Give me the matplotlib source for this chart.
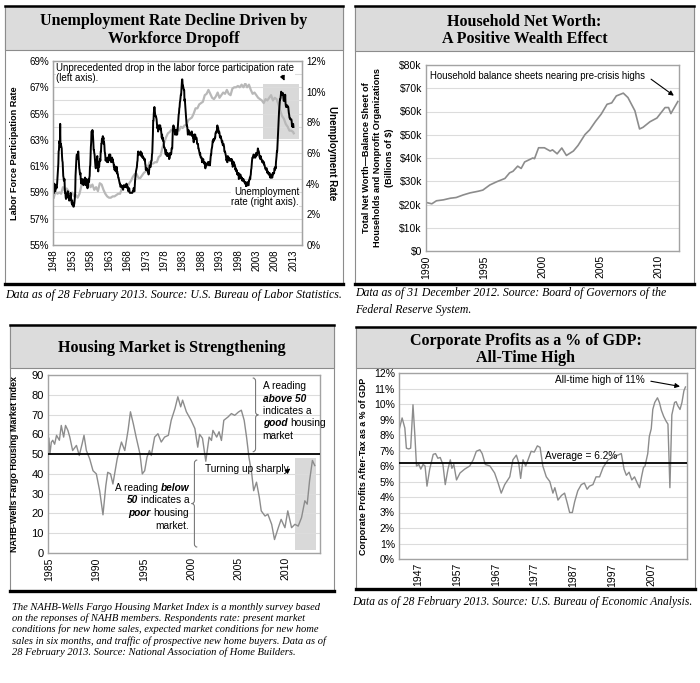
import matplotlib
matplotlib.use('Agg')
import matplotlib.pyplot as plt
import numpy as np
from matplotlib.patches import Rectangle, PathPatch
from matplotlib.lines import Line2D
from matplotlib.path import Path

plt.rcParams['font.family'] = 'Liberation Sans'
plt.rcParams['font.size'] = 7

SERIF = 'Liberation Serif'
GRID = '#dcdcdc'
FRAME = '#a3a3a3'
LINE_GRAY = '#8c8c8c'

# --- Panel 1: unemployment rate, monthly from Jan 1948 (right axis, %)
unemp_rate = [
    3.4, 3.8, 4.0, 3.9, 3.5, 3.6, 3.6, 3.9, 3.8, 3.7, 3.8, 4.0,
    4.3, 4.7, 5.0, 5.3, 6.1, 6.2, 6.7, 6.8, 6.6, 7.9, 6.4, 6.6,
    6.5, 6.4, 6.3, 5.8, 5.5, 5.4, 5.0, 4.5, 4.4, 4.2, 4.2, 4.3,
    3.7, 3.4, 3.4, 3.1, 3.0, 3.2, 3.1, 3.1, 3.3, 3.5, 3.5, 3.1,
    3.2, 3.1, 2.9, 2.9, 3.0, 3.0, 3.2, 3.4, 3.1, 3.0, 2.8, 2.7,
    2.9, 2.6, 2.6, 2.7, 2.5, 2.5, 2.6, 2.7, 2.9, 3.1, 3.5, 4.5,
    4.9, 5.2, 5.7, 5.9, 5.9, 5.6, 5.8, 6.0, 6.1, 5.7, 5.3, 5.0,
    4.9, 4.7, 4.6, 4.7, 4.3, 4.2, 4.0, 4.2, 4.1, 4.3, 4.2, 4.2,
    4.0, 3.9, 4.2, 4.0, 4.3, 4.3, 4.4, 4.1, 3.9, 3.9, 4.3, 4.2,
    4.2, 3.9, 3.7, 3.9, 4.1, 4.3, 4.2, 4.1, 4.4, 4.5, 5.1, 5.2,
    5.8, 6.4, 6.7, 7.4, 7.4, 7.3, 7.5, 7.4, 7.1, 6.7, 6.2, 6.2,
    6.0, 5.9, 5.6, 5.2, 5.1, 5.0, 5.1, 5.2, 5.5, 5.7, 5.8, 5.3,
    5.2, 4.8, 5.4, 5.2, 5.1, 5.4, 5.5, 5.6, 5.5, 6.1, 6.1, 6.6,
    6.6, 6.9, 6.9, 7.0, 7.1, 6.9, 7.0, 6.6, 6.7, 6.5, 6.1, 6.0,
    5.8, 5.5, 5.6, 5.6, 5.5, 5.5, 5.4, 5.7, 5.6, 5.4, 5.7, 5.5,
    5.7, 5.9, 5.7, 5.7, 5.9, 5.6, 5.6, 5.4, 5.5, 5.5, 5.7, 5.5,
    5.6, 5.4, 5.4, 5.3, 5.1, 5.2, 4.9, 5.0, 5.1, 5.1, 4.8, 5.0,
    4.9, 5.1, 4.7, 4.8, 4.6, 4.6, 4.4, 4.4, 4.3, 4.2, 4.1, 4.0,
    4.0, 3.8, 3.8, 3.8, 3.9, 3.8, 3.8, 3.8, 3.7, 3.7, 3.6, 3.8,
    3.9, 3.8, 3.8, 3.8, 3.8, 3.9, 3.8, 3.8, 3.8, 4.0, 3.9, 3.8,
    3.7, 3.8, 3.7, 3.5, 3.5, 3.7, 3.7, 3.5, 3.4, 3.4, 3.4, 3.4,
    3.4, 3.4, 3.4, 3.4, 3.4, 3.5, 3.5, 3.5, 3.7, 3.7, 3.5, 3.5,
    3.9, 4.2, 4.4, 4.6, 4.8, 4.9, 5.0, 5.1, 5.4, 5.5, 5.9, 6.1,
    5.9, 5.9, 6.0, 5.9, 5.9, 5.9, 6.0, 6.1, 6.0, 5.8, 6.0, 6.0,
    5.8, 5.7, 5.8, 5.7, 5.7, 5.7, 5.6, 5.6, 5.5, 5.6, 5.3, 5.2,
    4.9, 5.0, 4.9, 5.0, 4.9, 4.9, 4.8, 4.8, 4.8, 4.6, 4.8, 4.9,
    5.1, 5.2, 5.1, 5.1, 5.1, 5.4, 5.5, 5.5, 5.9, 6.0, 6.6, 7.2,
    8.1, 8.1, 8.6, 8.8, 9.0, 8.8, 8.6, 8.4, 8.4, 8.4, 8.3, 8.2,
    7.9, 7.7, 7.6, 7.7, 7.4, 7.6, 7.8, 7.8, 7.6, 7.7, 7.8, 7.8,
    7.5, 7.6, 7.4, 7.2, 7.0, 7.2, 6.9, 7.0, 6.8, 6.8, 6.8, 6.4,
    6.4, 6.3, 6.3, 6.1, 6.0, 5.9, 6.2, 5.9, 6.0, 5.8, 5.9, 6.0,
    5.9, 5.9, 5.8, 5.8, 5.6, 5.7, 5.7, 6.0, 5.9, 6.0, 5.9, 6.0,
    6.3, 6.3, 6.3, 6.9, 7.5, 7.6, 7.8, 7.7, 7.5, 7.5, 7.5, 7.2,
    7.5, 7.4, 7.4, 7.2, 7.5, 7.5, 7.2, 7.4, 7.6, 7.9, 8.3, 8.5,
    8.6, 8.9, 9.0, 9.3, 9.4, 9.6, 9.8, 9.8, 10.1, 10.4, 10.8, 10.8,
    10.4, 10.4, 10.3, 10.2, 10.1, 10.1, 9.4, 9.5, 9.2, 8.8, 8.5, 8.3,
    8.0, 7.8, 7.8, 7.7, 7.4, 7.2, 7.5, 7.5, 7.3, 7.4, 7.2, 7.3,
    7.3, 7.2, 7.2, 7.3, 7.2, 7.4, 7.4, 7.1, 7.1, 7.1, 7.0, 7.0,
    6.7, 7.2, 7.2, 7.1, 7.2, 7.2, 7.0, 6.9, 7.0, 7.0, 6.9, 6.6,
    6.6, 6.6, 6.6, 6.3, 6.3, 6.2, 6.1, 6.0, 5.9, 6.0, 5.8, 5.7,
    5.7, 5.7, 5.7, 5.4, 5.6, 5.4, 5.4, 5.6, 5.4, 5.4, 5.3, 5.3,
    5.4, 5.2, 5.0, 5.2, 5.2, 5.3, 5.2, 5.2, 5.3, 5.3, 5.4, 5.4,
    5.4, 5.3, 5.2, 5.4, 5.4, 5.2, 5.5, 5.7, 5.9, 5.9, 6.2, 6.3,
    6.4, 6.6, 6.8, 6.7, 6.9, 6.9, 6.8, 6.9, 6.9, 7.0, 7.0, 7.3,
    7.3, 7.4, 7.4, 7.4, 7.6, 7.8, 7.7, 7.6, 7.6, 7.3, 7.4, 7.4,
    7.3, 7.1, 7.0, 7.1, 7.1, 7.0, 6.9, 6.8, 6.7, 6.8, 6.6, 6.5,
    6.6, 6.6, 6.5, 6.4, 6.1, 6.1, 6.1, 6.0, 5.9, 5.8, 5.6, 5.5,
    5.6, 5.4, 5.4, 5.8, 5.6, 5.6, 5.7, 5.7, 5.6, 5.5, 5.6, 5.6,
    5.6, 5.5, 5.5, 5.6, 5.6, 5.3, 5.5, 5.1, 5.2, 5.2, 5.4, 5.4,
    5.3, 5.2, 5.2, 5.1, 4.9, 5.0, 4.9, 4.8, 4.9, 4.7, 4.6, 4.7,
    4.6, 4.6, 4.7, 4.3, 4.4, 4.5, 4.5, 4.5, 4.6, 4.5, 4.4, 4.4,
    4.3, 4.4, 4.2, 4.3, 4.2, 4.3, 4.3, 4.2, 4.2, 4.1, 4.1, 4.0,
    4.0, 4.1, 4.0, 3.8, 4.0, 4.0, 4.0, 4.1, 3.9, 3.9, 3.9, 3.9,
    4.2, 4.2, 4.3, 4.4, 4.3, 4.5, 4.6, 4.9, 5.0, 5.3, 5.5, 5.7,
    5.7, 5.7, 5.7, 5.9, 5.8, 5.8, 5.8, 5.7, 5.7, 5.7, 5.9, 6.0,
    5.8, 5.9, 5.9, 6.0, 6.1, 6.3, 6.2, 6.1, 6.1, 6.0, 5.8, 5.7,
    5.7, 5.6, 5.8, 5.6, 5.6, 5.6, 5.5, 5.4, 5.4, 5.5, 5.4, 5.4,
    5.3, 5.4, 5.2, 5.2, 5.1, 5.0, 5.0, 4.9, 5.0, 5.0, 5.0, 4.9,
    4.7, 4.8, 4.7, 4.7, 4.6, 4.6, 4.7, 4.7, 4.5, 4.4, 4.5, 4.4,
    4.6, 4.5, 4.4, 4.5, 4.4, 4.6, 4.7, 4.6, 4.7, 4.7, 4.7, 5.0,
    5.0, 4.9, 5.1, 5.0, 5.4, 5.6, 5.8, 6.1, 6.1, 6.5, 6.8, 7.3,
    7.8, 8.3, 8.7, 9.0, 9.4, 9.5, 9.5, 9.6, 9.8, 10.0, 9.9, 9.9,
    9.8, 9.8, 9.9, 9.9, 9.6, 9.4, 9.4, 9.5, 9.5, 9.4, 9.8, 9.3,
    9.1, 9.0, 9.0, 9.1, 9.0, 9.1, 9.0, 9.0, 9.0, 8.8, 8.6, 8.5,
    8.3, 8.3, 8.2, 8.2, 8.2, 8.2, 8.2, 8.1, 7.8, 7.8, 7.7, 7.9,
    7.9, 7.7,
]

# labor force participation rate (left axis, %), half-yearly readings
part_years = list(np.arange(1948.0, 2013.01, 0.5)) + [2013.15]
part_rate = [
    58.6, 59.1, 58.9, 59.0, 58.9, 59.4, 59.1, 59.3, 59.1, 58.9,
    59.0, 58.7, 58.8, 58.6, 58.9, 59.5, 59.8, 60.1, 59.7, 59.7,
    59.4, 59.6, 59.2, 59.4, 59.1, 59.7, 59.6, 59.2, 58.9, 58.7,
    58.6, 58.6, 58.7, 58.7, 58.8, 58.9, 58.9, 59.3, 59.5, 59.6,
    59.4, 59.7, 59.9, 60.2, 60.4, 60.4, 60.1, 60.1, 60.3, 60.5,
    60.6, 60.9, 61.3, 61.2, 61.2, 61.3, 61.3, 61.7, 61.8, 62.4,
    62.8, 63.2, 63.5, 63.6, 63.8, 63.7, 63.9, 63.8, 63.7, 64.0,
    63.9, 64.1, 64.1, 64.5, 64.6, 64.7, 65.0, 65.4, 65.4, 65.7,
    65.8, 65.9, 66.4, 66.5, 66.8, 66.5, 66.2, 66.1, 66.3, 66.6,
    66.2, 66.4, 66.6, 66.5, 66.8, 66.5, 66.4, 66.9, 67.0, 67.0,
    67.1, 67.0, 67.2, 67.0, 67.3, 67.0, 67.2, 66.8, 66.5, 66.6,
    66.4, 66.2, 66.1, 66.0, 65.8, 66.1, 66.0, 66.2, 66.4, 66.0,
    66.2, 66.1, 65.7, 65.2, 64.8, 64.6, 64.2, 64.0, 63.7, 63.7,
    63.6, 63.5,
]

# --- Panel 2: household net worth (thousands of billions $)
nw_years = [1990.0, 1990.5, 1990.9, 1991.5, 1992.1, 1992.6, 1993.2, 1993.8,
            1994.5, 1994.9, 1995.5, 1996.1, 1996.8, 1997.2, 1997.5, 1997.9,
            1998.2, 1998.5, 1999.2, 1999.35, 1999.7, 2000.2, 2000.7, 2000.9,
            2001.3, 2001.7, 2002.1, 2002.7, 2003.1, 2003.7, 2004.1, 2004.6,
            2005.1, 2005.6, 2006.0, 2006.4, 2007.0, 2007.4, 2008.0, 2008.4,
            2008.7, 2009.3, 2009.9, 2010.6, 2010.9, 2011.1, 2011.7]
nw_values = [20.9, 20.3, 21.6, 22.0, 22.7, 23.0, 24.1, 25.0,
             25.7, 26.2, 28.4, 29.8, 31.2, 33.6, 34.3, 36.5,
             35.5, 38.3, 40.0, 39.7, 44.4, 44.4, 43.0, 43.5,
             41.8, 44.3, 41.1, 43.0, 45.4, 50.1, 52.1, 55.7,
             58.9, 63.1, 63.7, 66.7, 67.9, 66.0, 60.3, 52.5,
             53.2, 55.6, 57.2, 61.7, 61.7, 59.1, 64.3]

# --- Panel 3: NAHB-Wells Fargo housing market index
hmi_years = [1985.0, 1985.1, 1985.25, 1985.4, 1985.6, 1985.8, 1986.1, 1986.3,
             1986.55, 1986.75, 1987.0, 1987.2, 1987.5, 1987.9, 1988.2, 1988.5,
             1988.7, 1988.95, 1989.3, 1989.65, 1990.0, 1990.35, 1990.7, 1991.0,
             1991.2, 1991.5, 1991.75, 1992.2, 1992.65, 1993.0, 1993.35, 1993.6,
             1993.9, 1994.2, 1994.6, 1994.85, 1995.1, 1995.35, 1995.6, 1995.8,
             1996.15, 1996.5, 1996.85, 1997.2, 1997.6, 1997.9, 1998.3, 1998.6,
             1998.9, 1999.1, 1999.5, 2000.0, 2000.4, 2000.7, 2000.9, 2001.2,
             2001.55, 2001.9, 2002.15, 2002.3, 2002.7, 2002.95, 2003.2, 2003.45,
             2003.9, 2004.25, 2004.6, 2005.0, 2005.3, 2005.6, 2005.85, 2006.1,
             2006.4, 2006.6, 2006.9, 2007.2, 2007.4, 2007.8, 2008.1, 2008.5,
             2008.8, 2009.2, 2009.5, 2009.9, 2010.2, 2010.6, 2010.95, 2011.3,
             2011.65, 2012.0, 2012.25, 2012.5, 2012.8, 2013.05]
hmi_values = [58, 50, 56, 57, 55, 59.5, 57, 64.5,
              58.6, 64.5, 62, 58.6, 51.8, 54.4, 49.3, 55.2,
              59.5, 51.8, 47.6, 41.6, 40.0, 31.5, 19.3, 34.0,
              40.8, 40.0, 34.9, 47.6, 56.1, 51.8, 62.1, 71.4,
              65.4, 58.6, 50.2, 40.0, 41.6, 48.5, 51.8, 49.3,
              58.6, 60.3, 56.1, 58.6, 59.5, 67.1, 73.1, 79.0,
              73.9, 77.3, 71.4, 67.1, 62.9, 53.5, 60, 58,
              46.4, 58.6, 56.9, 62, 58.6, 61.3, 56.9, 67.1,
              68.8, 70.5, 69.6, 71.3, 72.2, 67.1, 58.6, 48.5,
              40.0, 31.5, 35.8, 28.1, 21.3, 18.7, 19.6, 14.5,
              6.8, 12.8, 17, 12.8, 21.3, 12.8, 14.5, 13.6,
              17.9, 26.4, 24.7, 36.6, 46.8, 44.2]

# --- Panel 4: corporate profits after tax, % of GDP (positions on the chart's own year axis)
cp_years = [1942.0, 1942.9, 1943.6, 1944.0, 1944.6, 1945.1, 1945.7, 1946.2,
            1946.6, 1947.2, 1947.7, 1948.3, 1948.8, 1949.3, 1950.0, 1950.9,
            1951.5, 1952.1, 1952.7, 1953.4, 1954.0, 1954.7, 1955.3, 1955.7,
            1956.2, 1956.9, 1957.8, 1959.0, 1960.3, 1961.2, 1962.0, 1962.9,
            1963.5, 1964.3, 1965.5, 1966.7, 1967.6, 1968.4, 1969.3, 1970.6,
            1971.4, 1972.3, 1972.9, 1973.4, 1974.0, 1974.7, 1975.3, 1976.1,
            1976.9, 1977.7, 1978.4, 1979.1, 1980.0, 1980.9, 1981.7, 1982.2,
            1983.0, 1983.9, 1984.7, 1985.4, 1986.0, 1986.7, 1987.3, 1988.1,
            1989.0, 1989.8, 1990.5, 1991.1, 1992.0, 1992.8, 1993.7, 1994.6,
            1995.9, 1996.8, 1997.6, 1998.4, 1999.3, 2000.0, 2000.6, 2001.3,
            2002.0, 2002.7, 2003.4, 2004.0, 2004.5, 2005.0, 2005.4, 2006.1,
            2006.5, 2007.0, 2007.4, 2007.9, 2008.6, 2009.1, 2009.6, 2010.2,
            2010.8, 2011.3, 2011.8, 2012.3, 2013.0, 2013.4, 2013.8, 2014.4,
            2014.9, 2015.4, 2015.8]
cp_values = [8.2, 9.1, 8.45, 7.15, 7.1, 7.15, 9.95, 7.9,
             6.0, 6.1, 5.8, 6.1, 6.0, 4.7, 5.8, 6.75,
             6.8, 6.5, 6.55, 6.1, 4.8, 5.8, 6.4, 5.85,
             6.1, 5.1, 5.55, 5.8, 6.0, 6.4, 6.95, 7.05,
             6.8, 6.1, 6.0, 5.55, 4.9, 4.25, 4.8, 5.3,
             6.4, 6.7, 6.2, 5.2, 6.4, 6.0, 6.4, 6.95,
             6.9, 7.3, 7.2, 6.0, 5.3, 5.0, 4.25, 4.6,
             3.8, 4.1, 4.25, 3.6, 3.0, 3.0, 3.7, 4.4,
             4.8, 4.9, 4.5, 4.7, 4.8, 5.3, 5.3, 5.9,
             6.4, 6.5, 6.6, 6.7, 6.8, 5.8, 5.4, 5.6,
             5.1, 5.3, 4.9, 4.6, 5.3, 5.9, 6.0, 6.8,
             7.9, 8.4, 9.65, 10.1, 10.4, 10.1, 9.6, 9.2,
             8.9, 8.7, 4.6, 9.3, 10.1, 10.15, 9.9, 9.65,
             10.1, 10.85, 11.1]
cp_average = 6.2

W, H = 700, 683
fig = plt.figure(figsize=(W / 100, H / 100), dpi=100)


def fx(x):
    return x / W


def fy(y):
    return 1 - y / H


def add_box(x0, y0, x1, y1, yh, title):
    fig.add_artist(Rectangle((fx(x0), fy(y1)), fx(x1) - fx(x0), fy(y0) - fy(y1),
                             transform=fig.transFigure, fc='white', ec='#8c8c8c', lw=0.8, zorder=-2))
    fig.add_artist(Rectangle((fx(x0), fy(yh)), fx(x1) - fx(x0), fy(y0) - fy(yh),
                             transform=fig.transFigure, fc='#dcdcdc', ec='#8c8c8c', lw=0.8, zorder=-1))
    fig.add_artist(Line2D([fx(x0), fx(x1)], [fy(y0), fy(y0)], color='black', lw=1.8,
                          transform=fig.transFigure))
    fig.add_artist(Line2D([fx(x0), fx(x1)], [fy(y1), fy(y1)], color='black', lw=2.4,
                          transform=fig.transFigure))
    fig.text(fx((x0 + x1) / 2), fy((y0 + yh) / 2 + 2), title, ha='center', va='center',
             family=SERIF, weight='bold', size=11.5, linespacing=1.15)


def make_axes(x0, y0, x1, y1):
    ax = fig.add_axes([fx(x0), fy(y1), fx(x1) - fx(x0), fy(y0) - fy(y1)])
    for s in ax.spines.values():
        s.set_color(FRAME)
        s.set_linewidth(1.0)
    ax.tick_params(which='both', length=0, pad=3)
    return ax


def brace(ax, x, y0, y1, w, h, point=1):
    ym = (y0 + y1) / 2
    verts = [(x - point * w, y1), (x, y1), (x, y1 - h), (x, ym + h), (x, ym),
             (x + point * w, ym), (x, ym), (x, ym - h), (x, y0 + h), (x, y0),
             (x - point * w, y0)]
    codes = [Path.MOVETO, Path.CURVE3, Path.CURVE3, Path.LINETO, Path.CURVE3,
             Path.CURVE3, Path.CURVE3, Path.CURVE3, Path.LINETO, Path.CURVE3, Path.CURVE3]
    ax.add_patch(PathPatch(Path(verts, codes), fc='none', ec='#7a7a7a', lw=0.8,
                           clip_on=False, zorder=4))


renderer = fig.canvas.get_renderer()
STYLES = {'n': {}, 'b': {'weight': 'bold', 'style': 'italic'}}


def text_width(s, size, **kw):
    t = fig.text(0, 0, s, size=size, **kw)
    w = t.get_window_extent(renderer).width
    t.remove()
    return w


def rich_line(ax, x, y, parts, align='left', size=7):
    px, py = ax.transData.transform((x, y))
    space = text_width('a a', size) - text_width('aa', size)
    widths = [text_width(s, size, **STYLES[k]) for s, k in parts]
    total = sum(widths) + space * (len(parts) - 1)
    start = px if align == 'left' else px - total
    for (s, k), w in zip(parts, widths):
        fig.text(start / W, py / H, s, size=size, ha='left', va='center', **STYLES[k])
        start += w + space


# ---------------- Panel 1 ----------------
add_box(5, 6, 343, 284, 50, 'Unemployment Rate Decline Driven by\nWorkforce Dropoff')
ax1 = make_axes(53, 61, 302, 245)
ax1.set_xlim(1947.8, 2015.4)
ax1.set_ylim(55, 69)
ax1.set_yticks(range(55, 70, 2))
ax1.set_yticklabels([f'{v}%' for v in range(55, 70, 2)], size=7)
ax1.set_yticks(range(55, 70), minor=True)
ax1.grid(axis='y', which='both', color=GRID, lw=0.8)
ax1.set_xticks(range(1948, 2014, 5))
ax1.set_xticklabels([str(y) for y in range(1948, 2014, 5)], rotation=90, size=7)
ax1.add_patch(Rectangle((2004.9, 63.1), 9.8, 4.15, fc='#d9d9d9', ec='none', zorder=0.5))
ax1.plot(part_years, part_rate, color='#b8b8b8', lw=1.6)
ax1.text(1948.7, 68.85, 'Unprecedented drop in the labor force participation rate\n(left axis).',
         ha='left', va='top', size=7.0, linespacing=1.0,
         bbox=dict(fc='white', ec='none', pad=0.3))
ax1.annotate('', xy=(2010.96, 67.3), xytext=(2009.7, 68.1),
             arrowprops=dict(arrowstyle='-|>', color='black', lw=0.8, mutation_scale=7))

ax1r = ax1.twinx()
for s in ax1r.spines.values():
    s.set_color(FRAME)
ax1r.tick_params(length=0, pad=3)
ax1r.set_ylim(0, 12)
ax1r.set_yticks(range(0, 13, 2))
ax1r.set_yticklabels([f'{v}%' for v in range(0, 13, 2)], size=7)
unemp_years = 1948 + np.arange(len(unemp_rate)) / 12
ax1r.plot(unemp_years, unemp_rate, color='black', lw=1.4)
ax1r.text(2014.6, 3.1, 'Unemployment\nrate (right axis).', ha='right', va='center',
          size=7, linespacing=1.0, bbox=dict(fc='white', ec='none', pad=0.3))

fig.text(fx(15), fy(153), 'Labor Force Participation Rate', rotation=90, ha='center',
         va='center', weight='bold', size=6.6)
fig.text(fx(332), fy(153), 'Unemployment Rate', rotation=270, ha='center',
         va='center', weight='bold', size=7)
fig.text(fx(5), fy(295), 'Data as of 28 February 2013. Source: U.S. Bureau of Labor Statistics.',
         family=SERIF, style='italic', size=8.6, va='center')

# ---------------- Panel 2 ----------------
add_box(355, 6, 694, 284, 51, 'Household Net Worth:\nA Positive Wealth Effect')
ax2 = make_axes(426, 65, 679, 251)
ax2.set_xlim(1990, 2011.8)
ax2.set_ylim(0, 80)
ax2.set_yticks(range(0, 90, 10))
ax2.set_yticklabels(['$0'] + [f'${v}k' for v in range(10, 90, 10)], size=7.5)
ax2.grid(axis='y', color=GRID, lw=0.8)
ax2.set_xticks(range(1990, 2011, 5))
ax2.set_xticklabels([str(y) for y in range(1990, 2011, 5)], rotation=90, size=7.5)
ax2.plot(nw_years, nw_values, color=LINE_GRAY, lw=1.2)
ax2.text(1990.35, 75.4, 'Household balance sheets nearing pre-crisis highs',
         ha='left', va='center', size=6.9)
ax2.annotate('', xy=(2011.55, 66.1), xytext=(2009.2, 74.6),
             arrowprops=dict(arrowstyle='-|>', color='black', lw=0.8, mutation_scale=7))
fig.text(fx(378), fy(158), 'Total Net Worth\u2014Balance Sheet of\nHouseholds and Nonprofit Organizations\n(Billions of $)',
         rotation=90, ha='center', va='center', weight='bold', size=6.6, linespacing=1.3)
fig.text(fx(355), fy(293), 'Data as of 31 December 2012. Source: Board of Governors of the',
         family=SERIF, style='italic', size=8.5, va='center')
fig.text(fx(355), fy(310), 'Federal Reserve System.',
         family=SERIF, style='italic', size=8.5, va='center')

# ---------------- Panel 3 ----------------
add_box(10, 325, 334, 591, 368, 'Housing Market is Strengthening')
ax3 = make_axes(48, 375, 320, 553)
ax3.set_xlim(1984.9, 2013.6)
ax3.set_ylim(0, 90)
ax3.set_yticks(range(0, 100, 10))
ax3.set_yticklabels([str(v) for v in range(0, 100, 10)], size=8)
ax3.grid(axis='y', color=GRID, lw=0.8)
ax3.set_xticks(range(1985, 2011, 5))
ax3.set_xticklabels([str(y) for y in range(1985, 2011, 5)], rotation=90, size=7.5)
ax3.add_patch(Rectangle((2010.95, 1.4), 2.25, 46.8, fc='#d9d9d9', ec='none', zorder=0.5))
ax3.plot(hmi_years, hmi_values, color=LINE_GRAY, lw=1.0)
ax3.axhline(50, color='black', lw=1.3, zorder=3)
brace(ax3, 2006.8, 51.2, 88.5, 0.3, 1.5, point=1)
brace(ax3, 2000.35, 3.0, 47.0, 0.3, 1.5, point=-1)
fig.canvas.draw()
upper = [[('A reading', 'n')], [('above 50', 'b')], [('indicates a', 'n')],
         [('good', 'b'), ('housing', 'n')], [('market', 'n')]]
for i, parts in enumerate(upper):
    rich_line(ax3, 2007.55, 84.4 - 6.3 * i, parts, 'left', size=7.3)
lower = [[('A reading', 'n'), ('below', 'b')], [('50', 'b'), ('indicates a', 'n')],
         [('poor', 'b'), ('housing', 'n')], [('market.', 'n')]]
for i, parts in enumerate(lower):
    rich_line(ax3, 1999.8, 33.1 - 6.5 * i, parts, 'right', size=7.3)
ax3.text(2001.45, 42.5, 'Turning up sharply', ha='left', va='center', size=7.3)
ax3.annotate('', xy=(2010.7, 43.6), xytext=(2010.05, 41.1),
             arrowprops=dict(arrowstyle='-|>', color='black', lw=0.8, mutation_scale=7))
fig.text(fx(15), fy(464), 'NAHB-Wells Fargo Housing Market Index', rotation=90,
         ha='center', va='center', weight='bold', size=6.5)
fig.text(fx(12), fy(630),
         'The NAHB-Wells Fargo Housing Market Index is a monthly survey based\n'
         'on the reponses of NAHB members. Respondents rate: present market\n'
         'conditions for new home sales, expected market conditions for new home\n'
         'sales in six months, and traffic of prospective new home buyers. Data as of\n'
         '28 February 2013. Source: National Association of Home Builders.',
         family=SERIF, style='italic', size=7.6, va='center', linespacing=1.2)

# ---------------- Panel 4 ----------------
add_box(356, 327, 695, 589, 368, 'Corporate Profits as a % of GDP:\nAll-Time High')
ax4 = make_axes(399, 373, 687, 559)
ax4.set_xlim(1942.1, 2016.2)
ax4.set_ylim(0, 12)
ax4.set_yticks(range(0, 13))
ax4.set_yticklabels([f'{v}%' for v in range(0, 13)], size=7.5)
ax4.grid(axis='y', color=GRID, lw=0.8)
ax4.set_xticks(range(1947, 2008, 10))
ax4.set_xticklabels([str(y) for y in range(1947, 2008, 10)], rotation=90, size=7.5)
ax4.plot(cp_years, cp_values, color=LINE_GRAY, lw=1.0)
ax4.axhline(cp_average, color='black', lw=1.3, zorder=3)
ax4.text(1979.6, 6.33, f'Average = {cp_average}%', ha='left', va='bottom', size=7.3)
ax4.text(2005.3, 11.55, 'All-time high of 11%', ha='right', va='center', size=7.3)
ax4.annotate('', xy=(2015.1, 11.1), xytext=(2006.2, 11.5),
             arrowprops=dict(arrowstyle='-|>', color='black', lw=0.8, mutation_scale=7))
fig.text(fx(364), fy(466), 'Corporate Profits After-Tax as a % of GDP', rotation=90,
         ha='center', va='center', weight='bold', size=6.4)
fig.text(fx(352), fy(602), 'Data as of 28 February 2013. Source: U.S. Bureau of Economic Analysis.',
         family=SERIF, style='italic', size=8.3, va='center')

fig.savefig('out.png', dpi=100)
